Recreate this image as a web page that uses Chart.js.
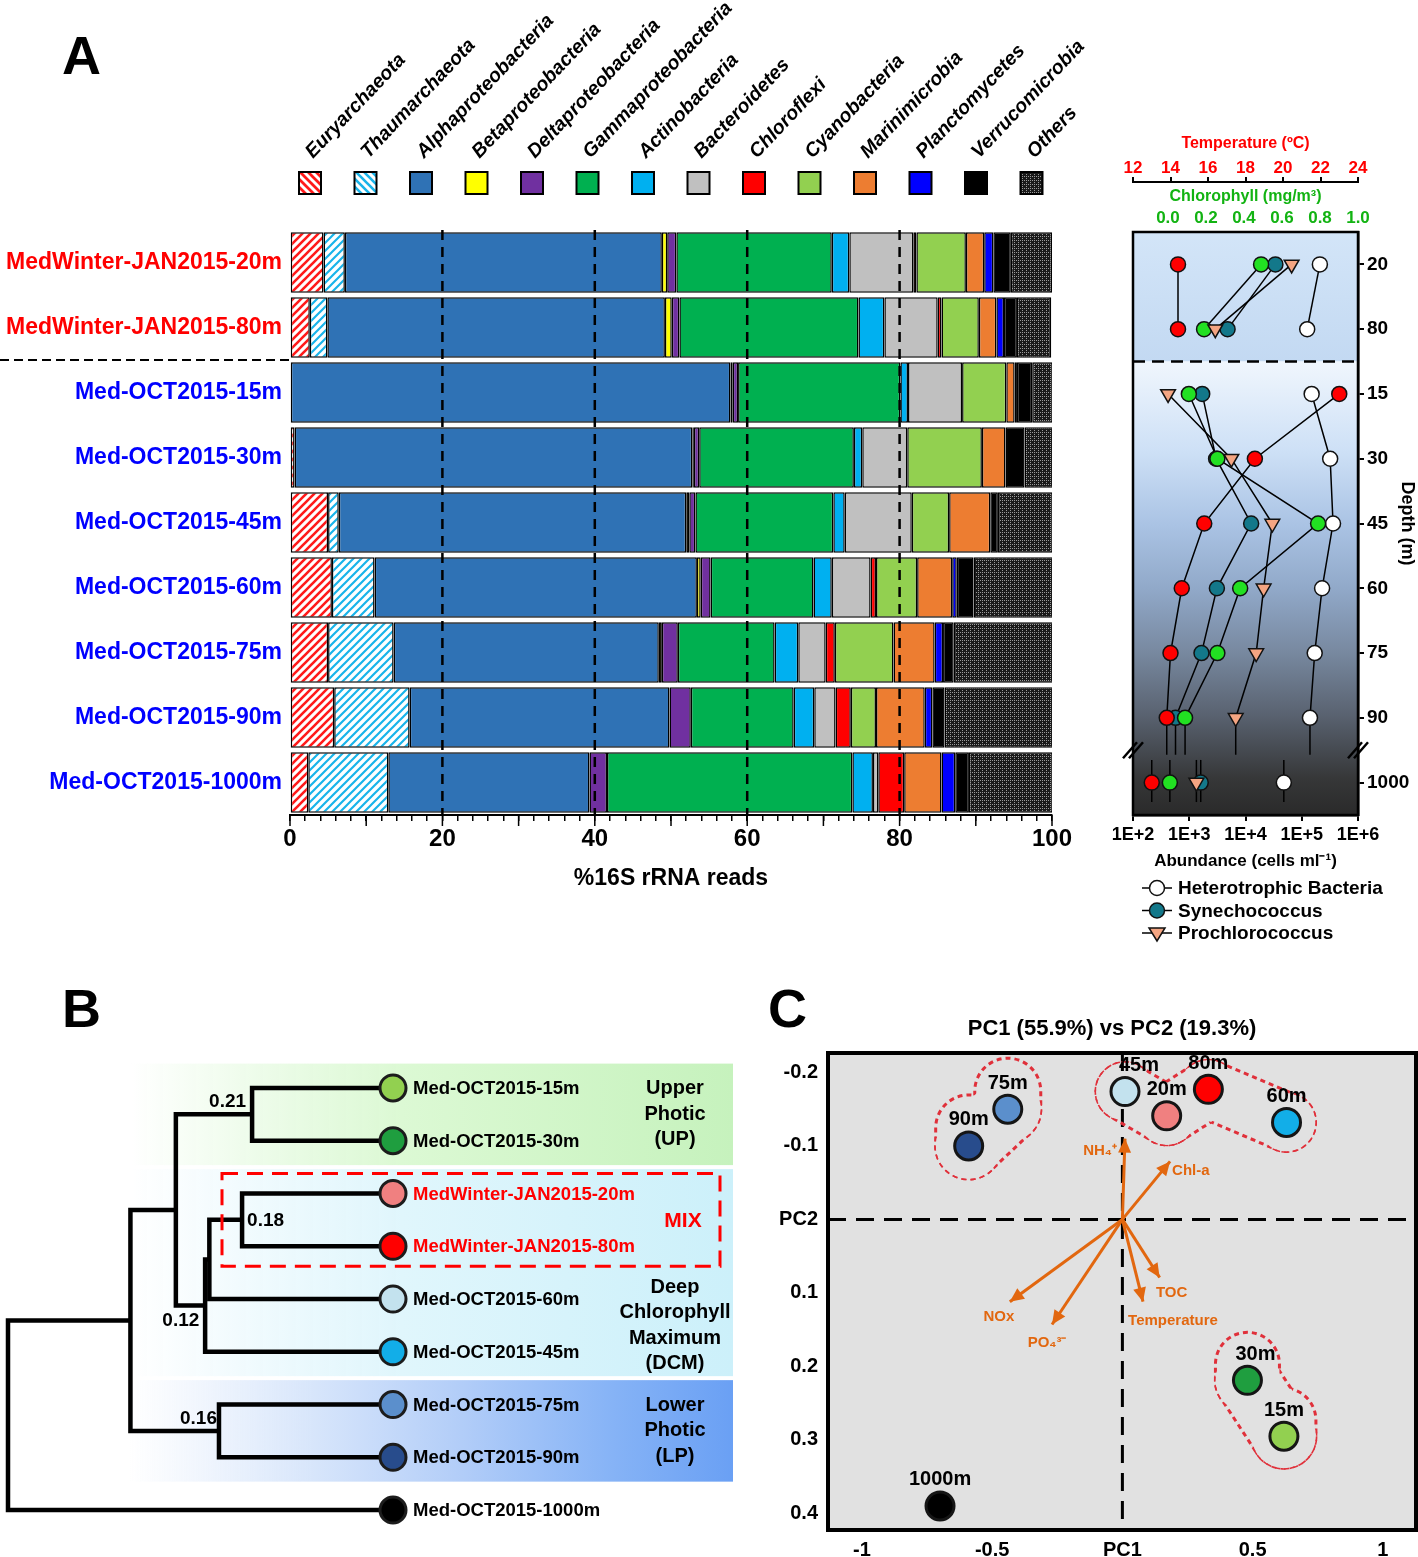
<!DOCTYPE html>
<html>
<head>
<meta charset="utf-8">
<script src="https://cdn.jsdelivr.net/npm/chart.js@4.4.1/dist/chart.umd.min.js"></script>
<style>
  body { margin: 0; background: #fff; width: 1418px; height: 1557px; position: relative; overflow: hidden;
         font-family: "Liberation Sans", Arial, sans-serif; }
  .box { position: absolute; }
  .letter { position: absolute; font-weight: bold; font-size: 54px; line-height: 1; }
</style>
</head>
<body>
<div class="letter" style="left:62px;top:28px">A</div>
<div class="letter" style="left:62px;top:981px">B</div>
<div class="letter" style="left:768px;top:981px">C</div>
<div class="box" style="left:0;top:0"><canvas id="bars" width="1100" height="900"></canvas></div>
<div class="box" style="left:1090px;top:120px"><canvas id="profile" width="328" height="830"></canvas></div>
<div class="box" style="left:0;top:1040px"><canvas id="tree" width="740" height="500"></canvas></div>
<div class="box" style="left:770px;top:1000px"><canvas id="pca" width="648" height="557"></canvas></div>
<script>
// ---------- panel A: community composition ----------
const sampleLabels = ['MedWinter-JAN2015-20m', 'MedWinter-JAN2015-80m', 'Med-OCT2015-15m', 'Med-OCT2015-30m',
  'Med-OCT2015-45m', 'Med-OCT2015-60m', 'Med-OCT2015-75m', 'Med-OCT2015-90m', 'Med-OCT2015-1000m'];
const phylumNames = ['Euryarchaeota', 'Thaumarchaeota', 'Alphaproteobacteria', 'Betaproteobacteria',
  'Deltaproteobacteria', 'Gammaproteobacteria', 'Actinobacteria', 'Bacteroidetes', 'Chloroflexi',
  'Cyanobacteria', 'Marinimicrobia', 'Planctomycetes', 'Verrucomicrobia', 'Others'];
const euryarchaeota   = [4.4, 2.6, 0.0, 0.6, 5.0, 5.5, 5.0, 5.8, 2.4];
const thaumarchaeota  = [2.8, 2.3, 0.0, 0.0, 1.4, 5.6, 8.6, 9.9, 10.5];
const alphaproteo     = [41.6, 44.3, 57.8, 52.2, 45.6, 42.3, 34.8, 34.1, 26.4];
const betaproteo      = [0.7, 0.9, 0.3, 0.2, 0.4, 0.5, 0.4, 0.0, 0.0];
const deltaproteo     = [1.2, 1.0, 0.7, 0.7, 0.8, 1.3, 2.1, 2.8, 2.3];
const gammaproteo     = [20.4, 23.5, 21.3, 20.3, 18.1, 13.5, 12.7, 13.5, 32.2];
const actinobacteria  = [2.3, 3.4, 1.0, 1.1, 1.5, 2.4, 3.1, 2.7, 2.7];
const bacteroidetes   = [8.4, 7.0, 7.1, 5.9, 8.8, 5.1, 3.6, 2.8, 0.7];
const chloroflexi     = [0.4, 0.5, 0.0, 0.0, 0.0, 0.7, 1.2, 2.0, 3.4];
const cyanobacteria   = [6.5, 4.9, 5.8, 9.8, 4.9, 5.4, 7.7, 3.3, 0.0];
const marinimicrobia  = [2.4, 2.3, 1.1, 3.1, 5.4, 4.6, 5.4, 6.4, 4.9];
const planctomycetes  = [1.2, 1.0, 0.3, 0.0, 0.0, 0.6, 1.1, 1.0, 1.8];
const verrucomicrobia = [2.3, 1.7, 2.0, 2.5, 1.0, 2.2, 1.4, 1.6, 1.8];
const others          = [5.4, 4.5, 2.7, 3.8, 7.2, 10.5, 13.1, 14.3, 11.0];

// ---------- panel A: depth profiles ----------
const depthRows = ['20', '80', '15', '30', '45', '60', '75', '90', '1000'];
const winterRows = [0, 1];
const octRows = [2, 3, 4, 5, 6, 7, 8];
const temperatureWinter = [14.4, 14.4];
const temperatureOct = [23.0, 18.5, 15.8, 14.6, 14.0, 13.8, 13.0];
const chlorophyllWinter = [0.49, 0.19];
const chlorophyllOct = [0.11, 0.26, 0.79, 0.38, 0.26, 0.09, 0.01];
const heteroWinter = [2.1e5, 1.25e5];
const heteroOct = [1.5e5, 3.2e5, 3.6e5, 2.3e5, 1.7e5, 1.4e5, 4.8e4];
const synWinter = [3.4e4, 4.8e3];
const synOct = [1.7e3, 3.0e3, 1.26e4, 3.1e3, 1.65e3, 5.7e2, 1.6e3];
const proWinter = [6.6e4, 2.9e3];
const proOct = [4.2e2, 5.6e3, 3.0e4, 2.1e4, 1.55e4, 6.7e3, 1.34e3];

// ---------- panel B: clustering ----------
const leafNames = ['Med-OCT2015-15m', 'Med-OCT2015-30m', 'MedWinter-JAN2015-20m', 'MedWinter-JAN2015-80m',
  'Med-OCT2015-60m', 'Med-OCT2015-45m', 'Med-OCT2015-75m', 'Med-OCT2015-90m', 'Med-OCT2015-1000m'];
const treeMerges = [
  ['L0', 'L1', 0.366],
  ['L2', 'L3', 0.392],
  ['N1', 'L4', 0.477],
  ['N2', 'L5', 0.488],
  ['N0', 'N3', 0.564],
  ['L6', 'L7', 0.452],
  ['N4', 'N5', 0.682],
  ['N6', 'L8', 1.0]
];
const nodeValues = ['0.21', '0.18', '', '', '0.12', '0.16', '', ''];
const zoneNames = [['Upper', 'Photic', '(UP)'], ['Deep', 'Chlorophyll', 'Maximum', '(DCM)'], ['Lower', 'Photic', '(LP)']];

// ---------- panel C: PCA ----------
const pcaLabels = ['15m', '30m', '45m', '60m', '75m', '90m', '1000m', '20m', '80m'];
const pc1Scores = [0.62, 0.48, 0.01, 0.63, -0.44, -0.59, -0.70, 0.17, 0.33];
const pc2Scores = [0.295, 0.219, -0.174, -0.132, -0.150, -0.100, 0.390, -0.141, -0.177];
const envLabels = ['NH₄⁺', 'Chl-a', 'TOC', 'Temperature', 'NOx', 'PO₄³⁻'];
const envPc1 = [0.010, 0.183, 0.143, 0.079, -0.432, -0.270];
const envPc2 = [-0.110, -0.079, 0.079, 0.112, 0.112, 0.143];
const pcaGroups = [['90m', '75m'], ['45m', '20m', '80m', '60m'], ['30m', '15m']];

const FONT = '"Liberation Sans", Arial, sans-serif';
Chart.defaults.font.family = FONT;
Chart.defaults.font.weight = 'bold';
Chart.defaults.color = '#000';
Chart.defaults.animation = false;
Chart.defaults.layout.autoPadding = false;
Chart.defaults.plugins.legend.display = false;
Chart.defaults.plugins.tooltip.enabled = false;

const stripes = (color, width, flip) => {
  const c = document.createElement('canvas');
  c.width = 8; c.height = 8;
  const g = c.getContext('2d');
  g.fillStyle = '#fff'; g.fillRect(0, 0, 8, 8);
  if (flip) { g.translate(8, 0); g.scale(-1, 1); }
  g.strokeStyle = color; g.lineWidth = width;
  g.beginPath();
  g.moveTo(-1, 9); g.lineTo(9, -1);
  g.moveTo(-1, 1); g.lineTo(1, -1);
  g.moveTo(7, 9); g.lineTo(9, 7);
  g.stroke();
  return g.createPattern(c, 'repeat');
};
const speckle = () => {
  const c = document.createElement('canvas');
  c.width = 4; c.height = 4;
  const g = c.getContext('2d');
  g.fillStyle = '#1a1a1a'; g.fillRect(0, 0, 4, 4);
  g.fillStyle = '#9a9a9a';
  g.fillRect(0, 0, 1, 1); g.fillRect(2, 2, 1, 1); g.fillRect(2, 0, 1, 1);
  return g.createPattern(c, 'repeat');
};

const phylumSeries = [euryarchaeota, thaumarchaeota, alphaproteo, betaproteo, deltaproteo, gammaproteo,
  actinobacteria, bacteroidetes, chloroflexi, cyanobacteria, marinimicrobia, planctomycetes, verrucomicrobia, others];
const phylumFills = [stripes('#ff1a1a', 2.6), stripes('#19b4ea', 2.2), '#2f72b5', '#ffff00', '#7030a0', '#00b050',
  '#00b0f0', '#c0c0c0', '#ff0000', '#92d050', '#ed7d31', '#0000ff', '#000000', speckle()];
const legendFills = phylumFills.slice();
legendFills[0] = stripes('#ff1a1a', 2.8, true);
legendFills[1] = stripes('#19b4ea', 2.6, true);

const barExtras = {
  id: 'barExtras',
  afterDraw(chart) {
    const { ctx, chartArea: a, scales: { x, y } } = chart;
    ctx.save();
    ctx.strokeStyle = '#000';
    ctx.lineWidth = 2.5;
    ctx.setLineDash([10, 7]);
    [20, 40, 60, 80].forEach(v => {
      const px = x.getPixelForValue(v);
      ctx.beginPath(); ctx.moveTo(px, a.top); ctx.lineTo(px, a.bottom); ctx.stroke();
    });
    const sep = (y.getPixelForValue(1) + y.getPixelForValue(2)) / 2;
    ctx.lineWidth = 2;
    ctx.setLineDash([9, 5]);
    ctx.beginPath(); ctx.moveTo(0, sep); ctx.lineTo(a.left, sep); ctx.stroke();
    ctx.setLineDash([]);
    // longer ticks every 10 %
    ctx.lineWidth = 1.5;
    for (let v = 0; v <= 100; v += 10) {
      const px = x.getPixelForValue(v);
      ctx.beginPath(); ctx.moveTo(px, a.bottom); ctx.lineTo(px, a.bottom + 11); ctx.stroke();
    }
    chart.data.datasets.forEach((ds, i) => {
      const cx = 310 + i * 55.5;
      ctx.fillStyle = legendFills[i];
      ctx.fillRect(cx - 11, 172, 22, 22);
      ctx.lineWidth = 2;
      ctx.strokeRect(cx - 11, 172, 22, 22);
      ctx.save();
      ctx.translate(cx + 3, 159);
      ctx.rotate(-46.5 * Math.PI / 180);
      ctx.font = 'italic bold 19.5px ' + FONT;
      ctx.fillStyle = '#000';
      ctx.textAlign = 'left';
      ctx.textBaseline = 'alphabetic';
      ctx.fillText(ds.label, 0, 0);
      ctx.restore();
    });
    ctx.restore();
  }
};

new Chart(document.getElementById('bars'), {
  type: 'bar',
  data: {
    labels: sampleLabels,
    datasets: phylumNames.map((name, i) => ({
      label: name,
      data: phylumSeries[i],
      backgroundColor: phylumFills[i],
      borderColor: '#000',
      borderWidth: 1.5,
      borderSkipped: false,
      barPercentage: 0.93,
      categoryPercentage: 1
    }))
  },
  options: {
    indexAxis: 'y',
    responsive: false,
    layout: { padding: { top: 230, right: 48, bottom: 8, left: 0 } },
    scales: {
      x: {
        stacked: true, min: 0, max: 100,
        afterBuildTicks: s => { s.ticks = Array.from({ length: 51 }, (_, i) => ({ value: i * 2 })); },
        ticks: { autoSkip: false, maxRotation: 0, padding: 4, font: { size: 24 },
                 callback: v => (v % 20 === 0 ? v : '') },
        grid: { drawOnChartArea: false, tickLength: 6, color: '#000', lineWidth: 1.5 },
        border: { color: '#000', width: 2 },
        title: { display: true, text: '%16S rRNA reads', font: { size: 23 }, padding: 0 },
        afterFit: s => { s.height = 77; }
      },
      y: {
        stacked: true,
        grid: { display: false, drawTicks: false },
        border: { display: false },
        ticks: { font: { size: 23 }, padding: 8, color: c => (c.index < 2 ? '#ff0000' : '#0000ff') },
        afterFit: s => { s.width = 290; }
      }
    }
  },
  plugins: [barExtras]
});

// ---------- profile chart ----------
const profileSeries = [
  { name: 'Temperature', axis: 'xT', winter: temperatureWinter, oct: temperatureOct, fill: '#ff0000', shape: 'circle' },
  { name: 'Prochlorococcus', axis: 'x', winter: proWinter, oct: proOct, fill: '#f4a582', shape: 'triangle' },
  { name: 'Chlorophyll', axis: 'xC', winter: chlorophyllWinter, oct: chlorophyllOct, fill: '#22e022', shape: 'circle' },
  { name: 'Heterotrophic Bacteria', axis: 'x', winter: heteroWinter, oct: heteroOct, fill: '#ffffff', shape: 'circle' },
  { name: 'Synechococcus', axis: 'x', winter: synWinter, oct: synOct, fill: '#13788a', shape: 'circle' }
];
const profileDatasets = [];
profileSeries.forEach(s => {
  const style = {
    xAxisID: s.axis,
    showLine: true,
    borderColor: '#000',
    borderWidth: 1.5,
    pointStyle: s.shape,
    rotation: s.shape === 'triangle' ? 180 : 0,
    pointRadius: s.shape === 'triangle' ? 8.5 : 7.5,
    pointBackgroundColor: s.fill,
    pointBorderColor: '#111',
    pointBorderWidth: 1.5,
    clip: false
  };
  profileDatasets.push(Object.assign({ label: s.name, data: s.winter.map((v, i) => ({ x: v, y: winterRows[i] })) }, style));
  profileDatasets.push(Object.assign({
    label: s.name, deep: true,
    data: s.oct.map((v, i) => ({ x: v, y: octRows[i] })),
    segment: { borderColor: c => (c.p1DataIndex === octRows.length - 1 ? 'rgba(0,0,0,0)' : undefined) }
  }, style));
});

const drawMarker = (ctx, shape, fill, x, y) => {
  ctx.fillStyle = fill;
  ctx.strokeStyle = '#111';
  ctx.lineWidth = 1.5;
  ctx.beginPath();
  if (shape === 'triangle') {
    ctx.moveTo(x - 8, y - 5); ctx.lineTo(x + 8, y - 5); ctx.lineTo(x, y + 8); ctx.closePath();
  } else {
    ctx.arc(x, y, 7.5, 0, Math.PI * 2);
  }
  ctx.fill(); ctx.stroke();
};

const profileExtras = {
  id: 'profileExtras',
  beforeDatasetsDraw(chart) {
    const { ctx, chartArea: a, scales } = chart;
    const y = scales.y;
    const sep = y.getPixelForValue(1.5);
    ctx.save();
    let g = ctx.createLinearGradient(0, a.top, 0, sep);
    g.addColorStop(0, '#d3e5f8'); g.addColorStop(1, '#c3d9f2');
    ctx.fillStyle = g;
    ctx.fillRect(a.left, a.top, a.width, sep - a.top);
    g = ctx.createLinearGradient(0, sep, 0, a.bottom);
    [[0, '#f0f6fd'], [0.2, '#cde0f6'], [0.36, '#aac3e4'], [0.5, '#91a9c9'], [0.64, '#7889a0'],
     [0.78, '#596270'], [0.92, '#363738'], [1, '#2a2a2a']].forEach(s => g.addColorStop(s[0], s[1]));
    ctx.fillStyle = g;
    ctx.fillRect(a.left, sep, a.width, a.bottom - sep);
    ctx.strokeStyle = '#000';
    ctx.lineWidth = 2.5;
    ctx.setLineDash([12, 7]);
    ctx.beginPath(); ctx.moveTo(a.left, sep); ctx.lineTo(a.right, sep); ctx.stroke();
    ctx.setLineDash([]);
    ctx.lineWidth = 1.5;
    chart.data.datasets.forEach(ds => {
      if (!ds.deep) return;
      const sx = scales[ds.xAxisID];
      const n = ds.data.length;
      const p90 = ds.data[n - 2];
      const p1000 = ds.data[n - 1];
      let px = sx.getPixelForValue(p90.x);
      ctx.beginPath();
      ctx.moveTo(px, y.getPixelForValue(p90.y));
      ctx.lineTo(px, y.getPixelForValue(p90.y + 0.57));
      ctx.stroke();
      px = sx.getPixelForValue(p1000.x);
      ctx.beginPath();
      ctx.moveTo(px, y.getPixelForValue(p1000.y - 0.35));
      ctx.lineTo(px, y.getPixelForValue(p1000.y + 0.3));
      ctx.stroke();
    });
    ctx.restore();
  },
  afterDraw(chart) {
    const { ctx, chartArea: a, scales: { y } } = chart;
    ctx.save();
    ctx.strokeStyle = '#000';
    ctx.lineWidth = 2.5;
    ctx.strokeRect(a.left, a.top, a.width, a.height);
    const by = y.getPixelForValue(7.5);
    [a.left, a.right].forEach(bx => {
      [-3, 3].forEach(d => {
        ctx.beginPath(); ctx.moveTo(bx - 7 + d, by + 8); ctx.lineTo(bx + 7 + d, by - 8); ctx.stroke();
      });
    });
    ['Heterotrophic Bacteria', 'Synechococcus', 'Prochlorococcus'].forEach((name, i) => {
      const s = profileSeries.find(p => p.name === name);
      const ly = a.bottom + 73 + i * 22.5;
      ctx.strokeStyle = '#000';
      ctx.lineWidth = 1.5;
      ctx.beginPath(); ctx.moveTo(52, ly); ctx.lineTo(82, ly); ctx.stroke();
      drawMarker(ctx, s.shape, s.fill, 67, ly);
      ctx.fillStyle = '#000';
      ctx.font = 'bold 19px ' + FONT;
      ctx.textAlign = 'left';
      ctx.textBaseline = 'middle';
      ctx.fillText(name, 88, ly + 1);
    });
    ctx.restore();
  }
};

new Chart(document.getElementById('profile'), {
  type: 'scatter',
  data: { datasets: profileDatasets },
  options: {
    responsive: false,
    layout: { padding: { top: 14, left: 43, right: 0, bottom: 78 } },
    scales: {
      x: {
        type: 'logarithmic', position: 'bottom', min: 100, max: 1e6,
        afterBuildTicks: s => { s.ticks = [2, 3, 4, 5, 6].map(p => ({ value: Math.pow(10, p) })); },
        ticks: { callback: v => '1E+' + Math.round(Math.log10(v)), font: { size: 18 }, padding: 3, maxRotation: 0 },
        grid: { drawOnChartArea: false, tickLength: 6, color: '#000', lineWidth: 2 },
        border: { color: '#000', width: 2.5 },
        title: { display: true, text: 'Abundance (cells ml⁻¹)', font: { size: 17 }, padding: 0 },
        afterFit: s => { s.height = 57; }
      },
      xC: {
        type: 'linear', position: 'top', weight: 0, min: -0.184, max: 1,
        afterBuildTicks: s => { s.ticks = [0, 0.2, 0.4, 0.6, 0.8, 1].map(v => ({ value: v })); },
        ticks: { color: '#12b312', font: { size: 17 }, padding: 3, maxRotation: 0, callback: v => v.toFixed(1) },
        grid: { display: false, drawTicks: false },
        border: { display: false },
        title: { display: true, text: 'Chlorophyll (mg/m³)', color: '#12b312', font: { size: 16 }, padding: { top: 5, bottom: 0 } },
        afterFit: s => { s.height = 50; }
      },
      xT: {
        type: 'linear', position: 'top', weight: 1, min: 12, max: 24,
        afterBuildTicks: s => { s.ticks = [12, 14, 16, 18, 20, 22, 24].map(v => ({ value: v })); },
        ticks: { color: '#ff0000', font: { size: 17 }, padding: -2, maxRotation: 0 },
        grid: { drawOnChartArea: false, tickLength: 5, color: '#000', lineWidth: 2 },
        border: { color: '#000', width: 2 },
        title: { display: true, text: 'Temperature (ºC)', color: '#ff0000', font: { size: 16 }, padding: 0 },
        afterFit: s => { s.height = 48; }
      },
      y: {
        type: 'linear', position: 'right', reverse: true, min: -0.5, max: 8.5,
        afterBuildTicks: s => { s.ticks = depthRows.map((d, i) => ({ value: i })); },
        ticks: { callback: v => depthRows[v], font: { size: 19 }, padding: 3 },
        grid: { drawOnChartArea: false, tickLength: 6, color: '#000', lineWidth: 2 },
        border: { color: '#000', width: 2.5 },
        title: { display: true, text: 'Depth (m)', font: { size: 18 }, padding: 0 },
        afterFit: s => { s.width = 60; }
      }
    }
  },
  plugins: [profileExtras]
});

// ---------- panel B ----------
const leafColors = ['#92d050', '#1f9e3f', '#f08080', '#ff0000', '#c3e2ee', '#12aee8', '#5b8fcc', '#284c8c', '#000000'];
const nodePos = {};
leafNames.forEach((n, i) => { nodePos['L' + i] = { x: 0, y: i }; });
const treeDatasets = treeMerges.map((m, k) => {
  const a = nodePos[m[0]];
  const b = nodePos[m[1]];
  nodePos['N' + k] = { x: m[2], y: (a.y + b.y) / 2, low: Math.max(a.y, b.y) };
  return {
    data: [{ x: a.x, y: a.y }, { x: m[2], y: a.y }, { x: m[2], y: b.y }, { x: b.x, y: b.y }],
    showLine: true, pointRadius: 0, borderColor: '#000', borderWidth: 4.5,
    borderJoinStyle: 'miter', clip: false
  };
});
treeDatasets.unshift({
  data: leafNames.map((n, i) => ({ x: 0, y: i })),
  pointRadius: 13, pointBackgroundColor: leafColors, pointBorderColor: '#1c1c1c', pointBorderWidth: 3, clip: false
});

const treeExtras = {
  id: 'treeExtras',
  beforeDatasetsDraw(chart) {
    const { ctx, scales: { y } } = chart;
    const bands = [
      [-0.5, 1.5, [[0, 'rgba(215,248,208,0)'], [0.45, '#dcf9d4'], [1, '#c6f2bd']]],
      [1.5, 5.5, [[0, 'rgba(220,244,252,0)'], [0.45, '#e0f6fc'], [1, '#ccf0fa']]],
      [5.5, 7.5, [[0, 'rgba(220,232,251,0)'], [0.3, '#d8e6fb'], [0.55, '#b2cdf8'], [0.8, '#86b3f6'], [1, '#6aa0f4']]]
    ];
    ctx.save();
    bands.forEach(b => {
      const g = ctx.createLinearGradient(130, 0, 733, 0);
      b[2].forEach(s => g.addColorStop(s[0], s[1]));
      ctx.fillStyle = g;
      const t = y.getPixelForValue(b[0]) + 2;
      const bt = y.getPixelForValue(b[1]) - 2;
      ctx.fillRect(130, t, 603, bt - t);
    });
    ctx.restore();
  },
  afterDatasetsDraw(chart) {
    const { ctx, scales: { x, y } } = chart;
    ctx.save();
    ctx.textBaseline = 'middle';
    leafNames.forEach((n, i) => {
      ctx.font = 'bold 18.5px ' + FONT;
      ctx.fillStyle = n.startsWith('MedWinter') ? '#ff0000' : '#000';
      ctx.textAlign = 'left';
      ctx.fillText(n, x.getPixelForValue(0) + 20, y.getPixelForValue(i) + 1);
    });
    ctx.fillStyle = '#000';
    ctx.font = 'bold 19px ' + FONT;
    nodeValues.forEach((v, k) => {
      if (!v) return;
      const p = nodePos['N' + k];
      const px = x.getPixelForValue(p.x);
      const py = y.getPixelForValue(p.y);
      if (k === 0) { ctx.textAlign = 'right'; ctx.fillText(v, px - 6, py - 13); }
      else if (k === 1) { ctx.textAlign = 'left'; ctx.fillText(v, px + 5, py + 1); }
      else if (k === 4) { ctx.textAlign = 'center'; ctx.fillText(v, px + 5, y.getPixelForValue(p.low) + 15); }
      else { ctx.textAlign = 'right'; ctx.fillText(v, px - 2, py - 12); }
    });
    ctx.font = 'bold 20px ' + FONT;
    ctx.textAlign = 'center';
    [0.5, 4.5, 6.5].forEach((row, z) => {
      const lines = zoneNames[z];
      const cy = y.getPixelForValue(row);
      lines.forEach((l, j) => ctx.fillText(l, 675, cy + (j - (lines.length - 1) / 2) * 25.5));
    });
    ctx.strokeStyle = '#ff0000';
    ctx.lineWidth = 3;
    ctx.setLineDash([16, 9]);
    const t = y.getPixelForValue(1.62);
    const b = y.getPixelForValue(3.38);
    ctx.strokeRect(222, t, 498, b - t);
    ctx.setLineDash([]);
    ctx.fillStyle = '#ff0000';
    ctx.font = 'bold 21px ' + FONT;
    ctx.fillText('MIX', 683, y.getPixelForValue(2.5) + 1);
    ctx.restore();
  }
};

new Chart(document.getElementById('tree'), {
  type: 'scatter',
  data: { datasets: treeDatasets },
  options: {
    responsive: false,
    layout: { padding: { left: 8, right: 347, top: 21.6, bottom: 3.6 } },
    scales: {
      x: { type: 'linear', reverse: true, min: 0, max: 1, display: false },
      y: { type: 'linear', reverse: true, min: -0.5, max: 8.5, display: false }
    }
  },
  plugins: [treeExtras]
});

// ---------- panel C ----------
const pcaColors = ['#92d050', '#1f9e3f', '#c3e2ee', '#12aee8', '#5b8fcc', '#284c8c', '#000000', '#f08080', '#ff0000'];
const pcaLabelShift = { '45m': 14, '30m': 8 };
const hullStyle = [{ r: 33, lift: 18 }, { r: 29, lift: 0 }, { r: 32, lift: 16 }];
const envLabelPos = [['right', -8, 12], ['left', 2, 9], ['center', 12, 15], ['center', 30, 19], ['center', -11, 15], ['center', -5, 18]];
const ORANGE = '#e2670f';

const capsulePath = (ctx, p, q, r) => {
  const a = Math.atan2(q.y - p.y, q.x - p.x);
  ctx.moveTo(p.x + r * Math.cos(a + Math.PI / 2), p.y + r * Math.sin(a + Math.PI / 2));
  ctx.arc(p.x, p.y, r, a + Math.PI / 2, a + 1.5 * Math.PI);
  ctx.arc(q.x, q.y, r, a - Math.PI / 2, a + Math.PI / 2);
  ctx.closePath();
};

const pcaExtras = {
  id: 'pcaExtras',
  beforeDatasetsDraw(chart) {
    const { ctx, chartArea: a, scales: { x, y } } = chart;
    ctx.save();
    ctx.fillStyle = '#e1e1e1';
    ctx.fillRect(a.left, a.top, a.width, a.height);
    ctx.strokeStyle = '#000';
    ctx.lineWidth = 3;
    ctx.setLineDash([18, 10]);
    const x0 = x.getPixelForValue(0);
    const y0 = y.getPixelForValue(0);
    ctx.beginPath(); ctx.moveTo(a.left, y0); ctx.lineTo(a.right, y0); ctx.stroke();
    ctx.beginPath(); ctx.moveTo(x0, a.top); ctx.lineTo(x0, a.bottom); ctx.stroke();
    ctx.strokeStyle = '#e0303a';
    ctx.lineWidth = 3;
    ctx.setLineDash([5, 4]);
    pcaGroups.forEach((grp, gi) => {
      const { r, lift } = hullStyle[gi];
      const pts = grp.map(n => {
        const i = pcaLabels.indexOf(n);
        return { x: x.getPixelForValue(pc1Scores[i]), y: y.getPixelForValue(pc2Scores[i]) };
      });
      const caps = pts.map(p => [p, { x: p.x, y: p.y - lift }]);
      for (let i = 0; i < pts.length - 1; i++) caps.push([pts[i], pts[i + 1]]);
      caps.forEach((c, i) => {
        ctx.save();
        caps.forEach((o, j) => {
          if (i === j) return;
          ctx.beginPath();
          ctx.rect(0, 0, chart.width, chart.height);
          capsulePath(ctx, o[0], o[1], r);
          ctx.clip('evenodd');
        });
        ctx.beginPath();
        capsulePath(ctx, c[0], c[1], r);
        ctx.stroke();
        ctx.restore();
      });
    });
    ctx.restore();
  },
  afterDatasetsDraw(chart) {
    const { ctx, chartArea: a, scales: { x, y } } = chart;
    ctx.save();
    const x0 = x.getPixelForValue(0);
    const y0 = y.getPixelForValue(0);
    envLabels.forEach((lab, i) => {
      const tx = x.getPixelForValue(envPc1[i]);
      const ty = y.getPixelForValue(envPc2[i]);
      const ang = Math.atan2(ty - y0, tx - x0);
      ctx.fillStyle = ORANGE;
      ctx.beginPath();
      ctx.moveTo(tx, ty);
      ctx.lineTo(tx - 14 * Math.cos(ang) + 6.5 * Math.sin(ang), ty - 14 * Math.sin(ang) - 6.5 * Math.cos(ang));
      ctx.lineTo(tx - 14 * Math.cos(ang) - 6.5 * Math.sin(ang), ty - 14 * Math.sin(ang) + 6.5 * Math.cos(ang));
      ctx.closePath();
      ctx.fill();
      const lp = envLabelPos[i];
      ctx.font = 'bold 15px ' + FONT;
      ctx.textAlign = lp[0];
      ctx.textBaseline = 'middle';
      ctx.fillText(lab, tx + lp[1], ty + lp[2]);
    });
    ctx.fillStyle = '#000';
    ctx.font = 'bold 20px ' + FONT;
    ctx.textAlign = 'center';
    ctx.textBaseline = 'middle';
    pcaLabels.forEach((lab, i) => {
      ctx.fillText(lab, x.getPixelForValue(pc1Scores[i]) + (pcaLabelShift[lab] || 0), y.getPixelForValue(pc2Scores[i]) - 26);
    });
    ctx.lineWidth = 4;
    ctx.strokeStyle = '#000';
    ctx.strokeRect(a.left, a.top, a.width, a.height);
    ctx.font = 'bold 22px ' + FONT;
    ctx.fillText('PC1 (55.9%) vs PC2 (19.3%)', (a.left + a.right) / 2 - 10, 29);
    ctx.restore();
  }
};

const pcaDatasets = [{
  data: pc1Scores.map((v, i) => ({ x: v, y: pc2Scores[i] })),
  pointRadius: 14, pointBackgroundColor: pcaColors, pointBorderColor: '#151515', pointBorderWidth: 3
}];
envLabels.forEach((lab, i) => {
  pcaDatasets.push({
    data: [{ x: 0, y: 0 }, { x: envPc1[i], y: envPc2[i] }],
    showLine: true, pointRadius: 0, borderColor: ORANGE, borderWidth: 3
  });
});

new Chart(document.getElementById('pca'), {
  type: 'scatter',
  data: { datasets: pcaDatasets },
  options: {
    responsive: false,
    layout: { padding: { top: 53, right: 2, left: 0, bottom: 0 } },
    scales: {
      x: {
        type: 'linear', min: -1.13, max: 1.127,
        afterBuildTicks: s => { s.ticks = [-1, -0.5, 0, 0.5, 1].map(v => ({ value: v })); },
        ticks: { callback: v => (v === 0 ? 'PC1' : v), font: { size: 20 }, padding: 8, maxRotation: 0 },
        grid: { display: false, drawTicks: false },
        border: { display: false },
        afterFit: s => { s.height = 27; }
      },
      y: {
        type: 'linear', reverse: true, min: -0.2265, max: 0.4227,
        afterBuildTicks: s => { s.ticks = [-0.2, -0.1, 0, 0.1, 0.2, 0.3, 0.4].map(v => ({ value: v })); },
        ticks: { callback: v => (v === 0 ? 'PC2' : v), font: { size: 20 }, padding: 10 },
        grid: { display: false, drawTicks: false },
        border: { display: false },
        afterFit: s => { s.width = 58; }
      }
    }
  },
  plugins: [pcaExtras]
});
</script>
</body>
</html>
